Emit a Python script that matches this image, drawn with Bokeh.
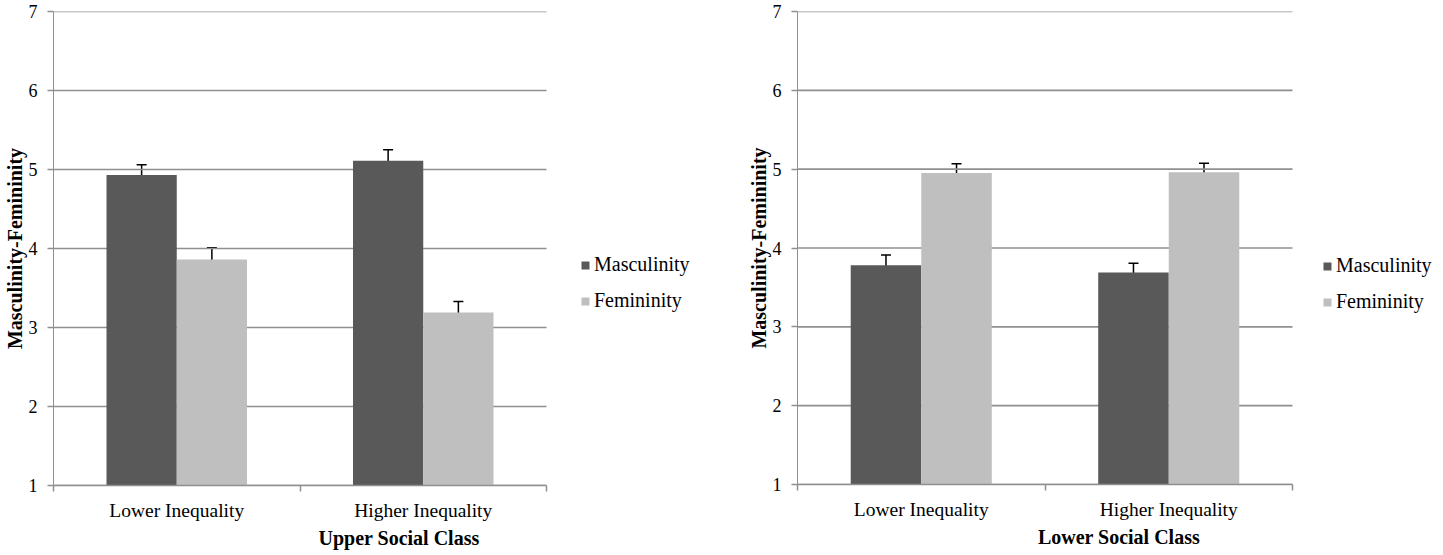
from bokeh.plotting import figure
from bokeh.models import (ColumnDataSource, Whisker, TeeHead, FixedTicker, Legend,
                          LegendItem, Range1d)
from bokeh.layouts import row
from bokeh.embed import file_html
from bokeh.resources import INLINE

categories = ["Lower Inequality", "Higher Inequality"]
series = ["Masculinity", "Femininity"]
upper_masc = [4.93, 5.11]
upper_masc_err = [0.13, 0.14]
upper_fem = [3.86, 3.19]
upper_fem_err = [0.15, 0.14]
lower_masc = [3.78, 3.69]
lower_masc_err = [0.13, 0.115]
lower_fem = [4.95, 4.96]
lower_fem_err = [0.12, 0.115]
y_ticks = [1, 2, 3, 4, 5, 6, 7]
panel_titles = ["Upper Social Class", "Lower Social Class"]
y_title = "Masculinity-Femininity"
colors = ["#595959", "#bfbfbf"]

FONT = "Liberation Serif"
GRID = "#8f8f8f"
BAR_W = 0.285


def make_panel(title, masc, masc_err, fem, fem_err, plot_w, frame_w, frame_h, top,
               legend_loc):
    n = len(categories)
    centers = [i + 0.5 for i in range(n)]
    xm = [c - BAR_W / 2 for c in centers]
    xf = [c + BAR_W / 2 for c in centers]
    src_m = ColumnDataSource(dict(x=xm, top=masc,
                                  up=[v + e for v, e in zip(masc, masc_err)],
                                  lo=[v - e for v, e in zip(masc, masc_err)]))
    src_f = ColumnDataSource(dict(x=xf, top=fem,
                                  up=[v + e for v, e in zip(fem, fem_err)],
                                  lo=[v - e for v, e in zip(fem, fem_err)]))
    # the frame also holds the legend area to the right of the plotted categories
    x_end = n * frame_w / plot_w
    p = figure(frame_width=frame_w, frame_height=frame_h, output_backend="svg",
               toolbar_location=None,
               x_range=Range1d(0, x_end), y_range=Range1d(y_ticks[0], y_ticks[-1]),
               min_border_left=46, min_border_right=0, min_border_top=top,
               min_border_bottom=66)
    p.outline_line_color = None
    p.background_fill_color = "white"
    p.border_fill_color = "white"
    p.xgrid.visible = False
    p.ygrid.visible = False

    # horizontal gridlines limited to the category area
    p.segment(x0=[0] * len(y_ticks), x1=[n] * len(y_ticks), y0=y_ticks, y1=y_ticks,
              line_color=GRID, line_width=1.6)

    rm = p.vbar(x="x", top="top", bottom=y_ticks[0], width=BAR_W, source=src_m,
                fill_color=colors[0], line_color=None)
    rf = p.vbar(x="x", top="top", bottom=y_ticks[0], width=BAR_W, source=src_f,
                fill_color=colors[1], line_color=None)
    for src in (src_m, src_f):
        w = Whisker(base="x", upper="up", lower="lo", source=src,
                    line_color="black", line_width=1.5,
                    upper_head=TeeHead(size=10, line_color="black", line_width=1.5),
                    lower_head=TeeHead(size=10, line_color="black", line_width=1.5))
        p.add_layout(w)

    # y axis
    p.yaxis.ticker = FixedTicker(ticks=y_ticks)
    p.yaxis.axis_line_color = GRID
    p.yaxis.axis_line_width = 1
    p.yaxis.major_tick_line_color = GRID
    p.yaxis.major_tick_line_width = 1.5
    p.yaxis.major_tick_out = 6
    p.yaxis.major_tick_in = 0
    p.yaxis.minor_tick_line_color = None
    p.yaxis.major_label_text_font = FONT
    p.yaxis.major_label_text_font_size = "18px"
    p.yaxis.major_label_text_color = "black"
    p.yaxis.major_label_standoff = 10
    p.yaxis.axis_label = y_title
    p.yaxis.axis_label_text_font = FONT
    p.yaxis.axis_label_text_font_style = "bold"
    p.yaxis.axis_label_text_font_size = "20px"
    p.yaxis.axis_label_text_color = "black"
    p.yaxis.axis_label_standoff = 0

    # x axis: labels at category centres, ticks at category boundaries
    p.xaxis.bounds = (0, n)
    p.xaxis.ticker = FixedTicker(ticks=centers, minor_ticks=list(range(n + 1)))
    p.xaxis.major_label_overrides = {c: lab for c, lab in zip(centers, categories)}
    p.xaxis.axis_line_color = GRID
    p.xaxis.axis_line_width = 1.5
    p.xaxis.major_tick_line_color = None
    p.xaxis.major_tick_out = 0
    p.xaxis.major_tick_in = 0
    p.xaxis.minor_tick_line_color = GRID
    p.xaxis.minor_tick_line_width = 1.5
    p.xaxis.minor_tick_out = 6
    p.xaxis.minor_tick_in = 0
    p.xaxis.major_label_text_font = FONT
    p.xaxis.major_label_text_font_size = "19.5px"
    p.xaxis.major_label_text_color = "black"
    p.xaxis.major_label_standoff = 8
    p.xaxis.axis_label = title
    p.xaxis.axis_label_text_font = FONT
    p.xaxis.axis_label_text_font_style = "bold"
    p.xaxis.axis_label_text_font_size = "20px"
    p.xaxis.axis_label_text_color = "black"
    p.xaxis.axis_label_standoff = 3

    legend = Legend(items=[LegendItem(label=series[0], renderers=[rm]),
                           LegendItem(label=series[1], renderers=[rf])],
                    location=legend_loc)
    legend.border_line_color = None
    legend.background_fill_alpha = 0
    legend.label_text_font = FONT
    legend.label_text_font_size = "20px"
    legend.label_text_color = "black"
    legend.glyph_width = 10
    legend.glyph_height = 10
    legend.label_standoff = 4
    legend.spacing = 13
    legend.padding = 0
    legend.margin = 0
    p.add_layout(legend, "center")
    return p


p1 = make_panel(panel_titles[0], upper_masc, upper_masc_err, upper_fem, upper_fem_err,
                493, 691, 474, 11, (527, 173))
p2 = make_panel(panel_titles[1], lower_masc, lower_masc_err, lower_fem, lower_fem_err,
                495, 643, 473, 9, (525, 171))
layout = row(p1, p2)
open("out.html", "w").write(file_html(layout, INLINE))
